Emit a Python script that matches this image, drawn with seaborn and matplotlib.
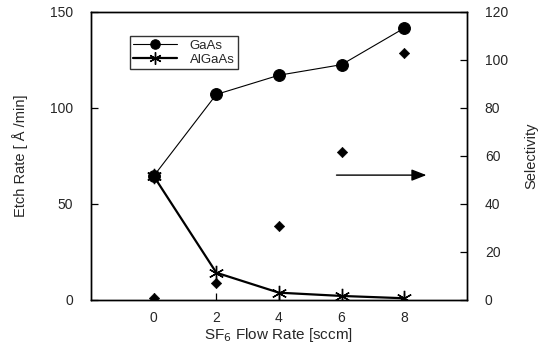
import numpy as np
import pandas as pd
import matplotlib
matplotlib.use("Agg")
import matplotlib.pyplot as plt
import seaborn as sns

flow_rate = [0, 2, 4, 6, 8]
gaas_rate = [64.5, 107, 117, 122.5, 141.5]
algaas_rate = [64.5, 14.2, 3.8, 2.1, 0.9]
selectivity = [1.0, 7.2, 30.8, 61.8, 102.8]

sns.set_style("ticks")
plt.rcParams["font.family"] = ["Liberation Sans", "DejaVu Sans"]
plt.rcParams["xtick.direction"] = "in"
plt.rcParams["ytick.direction"] = "in"

df = pd.DataFrame({"flow": flow_rate, "GaAs": gaas_rate, "AlGaAs": algaas_rate,
                   "sel": selectivity})

fig = plt.figure(figsize=(5.39, 3.48), dpi=100)
ax = fig.add_axes([0.169, 0.138, 0.697, 0.828])
ax2 = ax.twinx()

sns.lineplot(data=df, x="flow", y="GaAs", ax=ax, color="black", lw=0.8,
             marker="o", markersize=8.5, markeredgecolor="black", label="GaAs")
sns.lineplot(data=df, x="flow", y="AlGaAs", ax=ax, color="black", lw=1.6,
             marker=(6, 2, 0), markersize=11, markeredgewidth=1.0,
             markeredgecolor="black", label="AlGaAs")
sns.scatterplot(data=df, x="flow", y="sel", ax=ax2, color="black", marker="D",
                s=28, edgecolor="black", legend=False)

ax.set_xlim(-2, 10)
ax.set_ylim(0, 150)
ax2.set_ylim(0, 120)
ax.set_xticks(flow_rate)
ax.set_yticks([0, 50, 100, 150])
ax2.set_yticks([0, 20, 40, 60, 80, 100, 120])

for a in (ax, ax2):
    a.tick_params(labelsize=10, length=5, width=0.9, color="black", pad=13)
    for s in a.spines.values():
        s.set_linewidth(1.0)
        s.set_color("black")
ax.tick_params(axis="x", pad=8)

ax.set_xlabel("SF$_6$ Flow Rate [sccm]", fontsize=11, labelpad=1)
ax.set_ylabel("Etch Rate [ Å /min]", fontsize=10.5, labelpad=16)
ax2.set_ylabel("Selectivity", fontsize=10.5, labelpad=12)

ax.annotate("", xy=(8.8, 65), xytext=(5.75, 65),
            arrowprops=dict(arrowstyle="-|>,head_length=0.9,head_width=0.35",
                            color="black", lw=1.0))

leg = ax.legend(loc="upper left", bbox_to_anchor=(0.103, 0.915), frameon=True,
                fancybox=False, edgecolor="black", fontsize=9.5,
                handlelength=3.3, borderpad=0.25, labelspacing=0.15,
                handletextpad=1.0, markerscale=0.8, borderaxespad=0)
leg.get_frame().set_linewidth(1.0)

fig.savefig("out.png", dpi=100)
